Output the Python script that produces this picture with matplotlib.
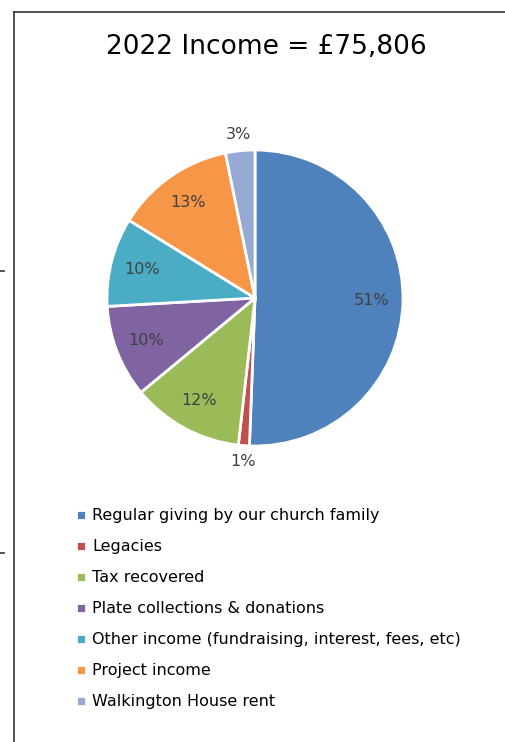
import numpy as np
import matplotlib.pyplot as plt
from matplotlib.lines import Line2D

# Data (share of 2022 income, %)
categories = ['Regular giving by our church family', 'Legacies', 'Tax recovered',
              'Plate collections & donations',
              'Other income (fundraising, interest, fees, etc)',
              'Project income', 'Walkington House rent']
shares = [50.6, 1.2, 12.2, 10.1, 9.7, 13.0, 3.2]
colors = ['#4F81BD', '#C0504D', '#9BBB59', '#8064A2', '#4BACC6', '#F79646', '#95A9D3']

W, H = 506, 742
fig = plt.figure(figsize=(W / 100, H / 100), dpi=100)
plt.rcParams['font.family'] = ['DejaVu Sans']

# pie axes: centre (255, 298) px, radius 148 px
cx, cy, r = 255, 298, 148
ax = fig.add_axes([(cx - r) / W, 1 - (cy + r) / H, 2 * r / W, 2 * r / H])
wedges, texts, autotexts = ax.pie(
    shares, colors=colors, startangle=90, counterclock=False,
    autopct='%1.0f%%', pctdistance=0.79,
    wedgeprops=dict(edgecolor='white', linewidth=2),
    textprops=dict(color='#404040', fontsize=11.5))
ax.set_xlim(-1, 1)
ax.set_ylim(-1, 1)
ax.set_aspect('equal')

# small slices get their label just outside the pie
for w, t, s in zip(wedges, autotexts, shares):
    if s < 5:
        ang = np.deg2rad((w.theta1 + w.theta2) / 2)
        t.set_position((1.11 * np.cos(ang), 1.11 * np.sin(ang)))
        t.set_clip_on(False)

fig.text(266 / W, 1 - 47 / H, '2022 Income = £75,806', ha='center', va='center',
         fontsize=19, color='black')

leg = fig.legend(wedges, categories, loc='upper left',
                 bbox_to_anchor=(62 / W, 1 - 494 / H), frameon=False,
                 fontsize=11.5, handlelength=0.6, handleheight=0.6,
                 handletextpad=0.4, labelspacing=1.0)
for t in leg.get_texts():
    t.set_color('black')

# frame lines of the original slide
fig.add_artist(Line2D([14 / W, 1], [1 - 12 / H, 1 - 12 / H], transform=fig.transFigure,
                      color='#333333', linewidth=1.2))
fig.add_artist(Line2D([14 / W, 14 / W], [0, 1 - 12 / H], transform=fig.transFigure,
                      color='#333333', linewidth=1.2))
for yy in [271, 553]:
    fig.add_artist(Line2D([0, 4 / W], [1 - yy / H, 1 - yy / H], transform=fig.transFigure,
                          color='#333333', linewidth=1.2))

fig.savefig('out.png', dpi=100)
